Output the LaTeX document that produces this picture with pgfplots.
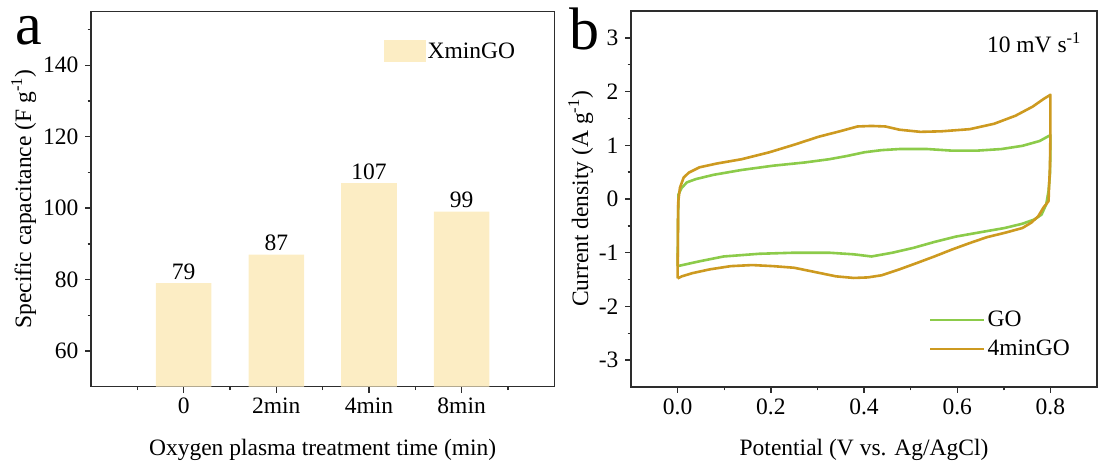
\documentclass[border=0pt]{standalone}
\usepackage{pgfplots}
\pgfplotsset{compat=1.18}
\usepackage{fontspec}
\setmainfont{Liberation Serif}
\definecolor{barcol}{RGB}{252,237,196}
\definecolor{gocol}{RGB}{140,203,74}
\definecolor{fourcol}{RGB}{205,154,32}
\definecolor{axcol}{RGB}{45,45,45}
\pgfplotsset{
  every axis/.append style={
    scale only axis,
    axis line style={axcol, line width=1.6pt},
    tick style={axcol, line width=1.4pt},
    major tick length=6pt, minor tick length=3.5pt,
    tick align=outside,
    xtick pos=left, ytick pos=left,
    tick label style={font=\fontsize{23.5}{27}\selectfont},
    yticklabel style={xshift=-3pt},
    xticklabel style={yshift=-2pt},
    label style={font=\fontsize{23.5}{27}\selectfont},
    /pgf/number format/assume math mode=true,
  }
}
\begin{document}
\begin{tikzpicture}
\useasboundingbox (0,0) rectangle (1099pt,470pt);
\begin{axis}[at={(91pt,83.3pt)}, anchor=south west, width=463.3pt, height=375pt,
  xmin=-1, xmax=4, ymin=50, ymax=155,
  xtick={0,1,2,3}, xticklabels={0,2min,4min,8min},
  minor xtick={-0.5,0.5,1.5,2.5,3.5},
  ytick={60,80,100,120,140}, minor ytick={70,90,110,130,150},
  ylabel={Specific capacitance (F g\textsuperscript{-1})},
  xlabel={Oxygen plasma treatment time (min)},
  ylabel style={at={(axis description cs:-0.145,0.5)}, anchor=center},
  xlabel style={at={(axis description cs:0.5,-0.169)}, anchor=center},
  ybar, bar width=0.6,
  nodes near coords,
  nodes near coords style={font=\fontsize{23.5}{27}\selectfont, text=black},
  legend style={at={(axis description cs:0.631,0.895)}, anchor=west, draw=none, fill=none,
    inner sep=0pt, font=\fontsize{23.5}{27}\selectfont, legend cell align=left},
  legend image code/.code={\fill[barcol] (0pt,-11pt) rectangle (42pt,11pt);},
]
\addplot[fill=barcol, draw=none] coordinates {(0,79) (1,87) (2,107) (3,99)};
\addlegendentry{XminGO}
\end{axis}
\begin{axis}[at={(631pt,83pt)}, anchor=south west, width=466pt, height=376pt,
  xmin=-0.1, xmax=0.9, ymin=-3.5, ymax=3.5,
  xtick={0,0.2,0.4,0.6,0.8}, minor xtick={0.1,0.3,0.5,0.7},
  xticklabel style={/pgf/number format/.cd, fixed, fixed zerofill, precision=1},
  ytick={-3,-2,-1,0,1,2,3}, minor ytick={-2.5,-1.5,-0.5,0.5,1.5,2.5},
  ylabel={Current density (A g\textsuperscript{-1})},
  xlabel={Potential (V vs. Ag/AgCl)},
  ylabel style={at={(axis description cs:-0.108,0.5)}, anchor=center},
  xlabel style={at={(axis description cs:0.5,-0.168)}, anchor=center},
  legend style={at={(axis description cs:0.639,0.14)}, anchor=west, draw=none, fill=none,
    inner sep=0pt, row sep=8pt, font=\fontsize{23.5}{27}\selectfont, legend cell align=left},
  legend image code/.code={\draw[#1] (0pt,0pt) -- (54pt,0pt);},
]
\addplot[gocol, line width=2.6pt, line join=round] coordinates {
(0.0,-1.25) (0.0005,-0.8) (0.001,-0.3) (0.002,0.09) (0.009,0.21) (0.020,0.31) (0.039,0.37)
(0.077,0.45) (0.137,0.54) (0.205,0.62) (0.273,0.68) (0.325,0.74) (0.363,0.80)
(0.401,0.87) (0.438,0.91) (0.476,0.93) (0.536,0.93) (0.589,0.90) (0.642,0.90)
(0.695,0.93) (0.740,0.99) (0.777,1.08) (0.800,1.19)
(0.800,0.90) (0.799,0.46) (0.796,0.15) (0.791,-0.10) (0.781,-0.29) (0.766,-0.38)
(0.740,-0.46) (0.702,-0.54) (0.649,-0.62) (0.597,-0.70) (0.551,-0.80) (0.506,-0.91)
(0.461,-1.00) (0.416,-1.07) (0.378,-1.03) (0.325,-1.00) (0.250,-1.00) (0.175,-1.02)
(0.099,-1.07) (0.047,-1.16) (0.0,-1.25)};
\addlegendentry{GO}
\addplot[fourcol, line width=2.6pt, line join=round] coordinates {
(0.0,-1.48) (0.0005,-0.9) (0.0010,-0.3) (0.0015,-0.04) (0.005,0.21) (0.013,0.40) (0.024,0.49)
(0.047,0.59) (0.084,0.66) (0.137,0.74) (0.197,0.87) (0.250,1.01) (0.303,1.16)
(0.348,1.26) (0.386,1.35) (0.416,1.36) (0.446,1.35) (0.476,1.29) (0.521,1.25)
(0.566,1.26) (0.627,1.30) (0.679,1.40) (0.725,1.55) (0.762,1.72) (0.785,1.86)
(0.800,1.94)
(0.800,1.89) (0.800,1.20) (0.799,0.59) (0.797,0.21) (0.796,-0.04) (0.785,-0.16)
(0.774,-0.32) (0.759,-0.44) (0.740,-0.54) (0.702,-0.63) (0.664,-0.71) (0.627,-0.82)
(0.589,-0.94) (0.551,-1.07) (0.514,-1.19) (0.476,-1.31) (0.438,-1.42) (0.408,-1.46)
(0.378,-1.47) (0.340,-1.44) (0.295,-1.36) (0.250,-1.28) (0.205,-1.25) (0.160,-1.23)
(0.114,-1.25) (0.069,-1.31) (0.032,-1.38) (0.009,-1.44) (0.0,-1.48)};
\addlegendentry{4minGO}
\end{axis}
\node[anchor=base, font=\fontsize{60}{62}\selectfont] at (28.5pt,425pt) {a};
\node[anchor=base, font=\fontsize{60}{62}\selectfont] at (584pt,420pt) {b};
\node[anchor=base west, font=\fontsize{23.5}{27}\selectfont] at (983.5pt,417pt) {10 mV s\textsuperscript{-1}};
\end{tikzpicture}
\end{document}
